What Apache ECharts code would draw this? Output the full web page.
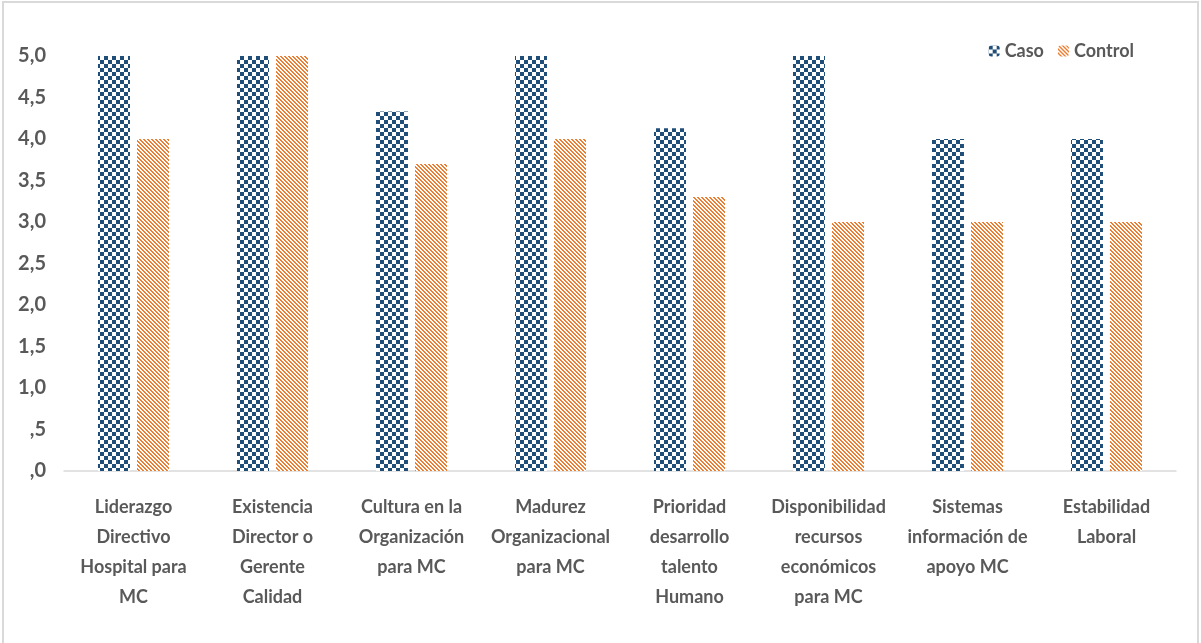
<!DOCTYPE html>
<html>
<head>
<meta charset="utf-8">
<script src="https://cdn.jsdelivr.net/npm/echarts@6/dist/echarts.min.js"></script>
<style>
  html, body { margin: 0; padding: 0; background: #fff; overflow: hidden; }
  #frame { position: absolute; left: 2px; top: 1px; width: 1197px; height: 700px; border: 2px solid #d9d9d9; box-sizing: border-box; }
  #chart { position: absolute; left: 0; top: 0; width: 1201px; height: 643px; }
</style>
</head>
<body>
<div id="frame"></div>
<div id="chart"></div>
<script>
// categorias y valores
var categories = [
  'Liderazgo\nDirectivo\nHospital para\nMC',
  'Existencia\nDirector o\nGerente\nCalidad',
  'Cultura en la\nOrganización\npara MC',
  'Madurez\nOrganizacional\npara MC',
  'Prioridad\ndesarrollo\ntalento\nHumano',
  'Disponibilidad\nrecursos\neconómicos\npara MC',
  'Sistemas\ninformación de\napoyo MC',
  'Estabilidad\nLaboral'
]
var caso = [5.0, 5.0, 4.33, 5.0, 4.13, 5.0, 4.0, 4.0]
var control = [4.0, 5.0, 3.7, 4.0, 3.3, 3.0, 3.0, 3.0]

// patron cuadriculado
function checker () {
  var c = document.createElement('canvas')
  c.width = 8; c.height = 8
  var g = c.getContext('2d')
  g.fillStyle = '#fff'; g.fillRect(0, 0, 8, 8)
  g.fillStyle = '#1f4e79'
  g.fillRect(0, 0, 4, 4); g.fillRect(4, 4, 4, 4)
  return c
}
// patron rayado diagonal
function stripes () {
  var c = document.createElement('canvas')
  c.width = 4; c.height = 4
  var g = c.getContext('2d')
  for (var y = 0; y < 4; y++) {
    for (var x = 0; x < 4; x++) {
      var m = ((x - y) % 4 + 4) % 4
      g.fillStyle = m < 2 ? '#ed7d31' : '#ffffff'
      g.fillRect(x, y, 1, 1)
    }
  }
  return c
}

var myChart = echarts.init(document.getElementById('chart'))
var textColor = '#595959'
var font = 'Lato'
myChart.setOption({
  animation: false,
  textStyle: { fontFamily: font },
  legend: {
    right: 62,
    top: 37,
    itemWidth: 11,
    itemHeight: 11,
    itemGap: 14,
    textStyle: { color: textColor, fontSize: 18, fontWeight: 'bold', fontFamily: font },
    data: ['Caso', 'Control']
  },
  grid: { left: 64, right: 25, top: 56, bottom: 172 },
  xAxis: {
    type: 'category',
    data: categories,
    axisTick: { show: false },
    axisLine: { lineStyle: { color: '#d9d9d9', width: 1.5 } },
    axisLabel: {
      interval: 0,
      margin: 21,
      color: textColor,
      fontSize: 18,
      fontWeight: 'bold',
      lineHeight: 30,
      fontFamily: font
    }
  },
  yAxis: {
    type: 'value',
    min: 0,
    max: 5,
    interval: 0.5,
    splitLine: { show: false },
    axisLabel: {
      margin: 18,
      color: textColor,
      fontSize: 20,
      fontWeight: 'bold',
      fontFamily: font,
      formatter: function (v) {
        var s = v.toFixed(1).replace('.', ',')
        return s.charAt(0) === '0' ? s.slice(1) : s
      }
    }
  },
  series: [
    {
      name: 'Caso',
      type: 'bar',
      barWidth: 32,
      barGap: '22%',
      data: caso,
      itemStyle: { color: { image: checker(), repeat: 'repeat' } }
    },
    {
      name: 'Control',
      type: 'bar',
      barWidth: 32,
      data: control,
      itemStyle: { color: { image: stripes(), repeat: 'repeat' } }
    }
  ]
})
</script>
</body>
</html>
